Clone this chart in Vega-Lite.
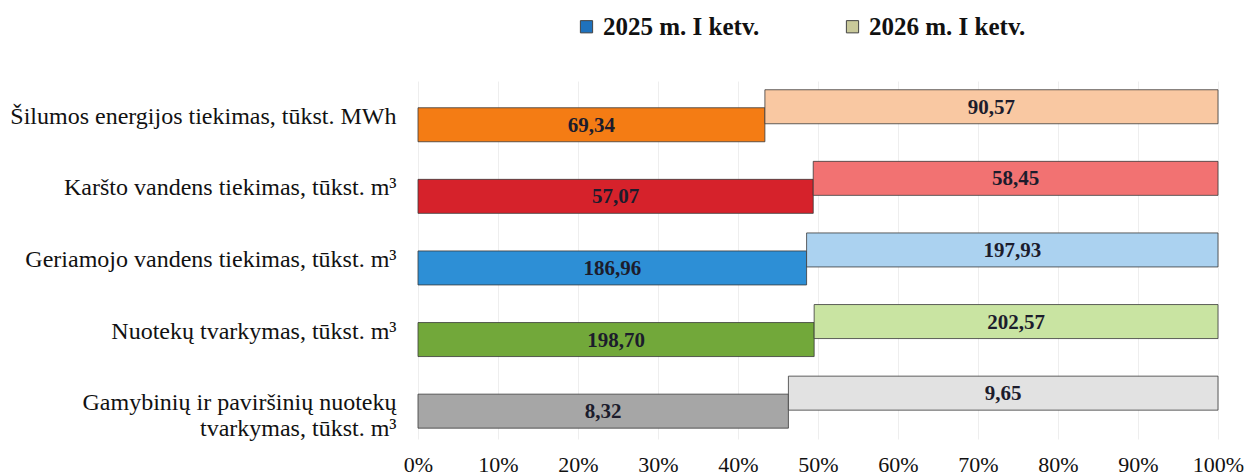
{
  "$schema": "https://vega.github.io/schema/vega-lite/v6.json",
  "width": 800,
  "height": 358,
  "autosize": "none",
  "padding": {"left": 418, "top": 81, "right": 32, "bottom": 36},
  "background": "white",
  "config": {
    "view": {"stroke": null},
    "locale": {"number": {"decimal": ",", "thousands": " ", "grouping": [3], "currency": ["", " €"]}},
    "font": "Liberation Serif"
  },
  "data": {
    "values": [
      {"cat": "Šilumos energijos tiekimas, tūkst. MWh", "series": "2025 m. I ketv.", "value": 69.34, "key": "s25", "ord": 1},
      {"cat": "Šilumos energijos tiekimas, tūkst. MWh", "series": "2026 m. I ketv.", "value": 90.57, "key": "s26", "ord": 2},
      {"cat": "Karšto vandens tiekimas, tūkst. m³", "series": "2025 m. I ketv.", "value": 57.07, "key": "k25", "ord": 1},
      {"cat": "Karšto vandens tiekimas, tūkst. m³", "series": "2026 m. I ketv.", "value": 58.45, "key": "k26", "ord": 2},
      {"cat": "Geriamojo vandens tiekimas, tūkst. m³", "series": "2025 m. I ketv.", "value": 186.96, "key": "g25", "ord": 1},
      {"cat": "Geriamojo vandens tiekimas, tūkst. m³", "series": "2026 m. I ketv.", "value": 197.93, "key": "g26", "ord": 2},
      {"cat": "Nuotekų tvarkymas, tūkst. m³", "series": "2025 m. I ketv.", "value": 198.70, "key": "n25", "ord": 1},
      {"cat": "Nuotekų tvarkymas, tūkst. m³", "series": "2026 m. I ketv.", "value": 202.57, "key": "n26", "ord": 2},
      {"cat": "Gamybinių ir paviršinių nuotekų|tvarkymas, tūkst. m³", "series": "2025 m. I ketv.", "value": 8.32, "key": "p25", "ord": 1},
      {"cat": "Gamybinių ir paviršinių nuotekų|tvarkymas, tūkst. m³", "series": "2026 m. I ketv.", "value": 9.65, "key": "p26", "ord": 2}
    ]
  },
  "transform": [
    {"stack": "value", "groupby": ["cat"], "sort": [{"field": "ord", "order": "ascending"}], "offset": "normalize", "as": ["x0", "x1"]},
    {"calculate": "(datum.x0 + datum.x1) / 2", "as": "xm"}
  ],
  "encoding": {
    "y": {
      "field": "cat",
      "type": "nominal",
      "sort": [
        "Šilumos energijos tiekimas, tūkst. MWh",
        "Karšto vandens tiekimas, tūkst. m³",
        "Geriamojo vandens tiekimas, tūkst. m³",
        "Nuotekų tvarkymas, tūkst. m³",
        "Gamybinių ir paviršinių nuotekų|tvarkymas, tūkst. m³"
      ],
      "scale": {"paddingInner": 0, "paddingOuter": 0},
      "axis": {
        "title": null,
        "domain": false,
        "ticks": false,
        "labelExpr": "split(datum.value, '|')",
        "labelFont": "Liberation Serif",
        "labelFontSize": 24,
        "labelColor": "#111111",
        "labelPadding": 22,
        "labelLimit": 450,
        "labelLineHeight": 26
      }
    },
    "yOffset": {
      "field": "series",
      "type": "nominal",
      "sort": ["2026 m. I ketv.", "2025 m. I ketv."],
      "scale": {"range": [16.75, 52.75], "paddingInner": 0, "paddingOuter": 0}
    }
  },
  "layer": [
    {
      "mark": {"type": "bar", "height": 34, "stroke": "#3a3a3a", "strokeWidth": 1, "strokeOpacity": 0.8},
      "encoding": {
        "x": {
          "field": "x0",
          "type": "quantitative",
          "scale": {"domain": [0, 1]},
          "axis": {
            "title": null,
            "format": ".0%",
            "values": [0, 0.1, 0.2, 0.3, 0.4, 0.5, 0.6, 0.7, 0.8, 0.9, 1],
            "domain": false,
            "ticks": false,
            "grid": true,
            "gridColor": "#eeeeee",
            "labelFont": "Liberation Serif",
            "labelFontSize": 22,
            "labelColor": "#111111",
            "labelPadding": 15,
            "labelFlush": false
          }
        },
        "x2": {"field": "x1"},
        "fill": {
          "field": "key",
          "type": "nominal",
          "scale": {
            "domain": ["s25", "s26", "k25", "k26", "g25", "g26", "n25", "n26", "p25", "p26"],
            "range": ["#f47c14", "#f9c8a2", "#d6222b", "#f27272", "#2d8fd6", "#abd2f0", "#72a83a", "#c9e4a2", "#a6a6a6", "#e2e2e2"]
          },
          "legend": null
        }
      }
    },
    {
      "mark": {"type": "text", "font": "Liberation Serif", "fontSize": 21, "fontWeight": "bold", "color": "#1c1c2c", "baseline": "middle", "dy": 1},
      "encoding": {
        "x": {"field": "xm", "type": "quantitative"},
        "text": {"field": "value", "type": "quantitative", "format": ".2f"}
      }
    },
    {
      "transform": [{"filter": "false"}],
      "mark": {"type": "square", "filled": true},
      "encoding": {
        "color": {
          "field": "series",
          "type": "nominal",
          "scale": {"domain": ["2025 m. I ketv.", "2026 m. I ketv."], "range": ["#1f72bd", "#c9c99a"]},
          "legend": {
            "title": null,
            "orient": "none",
            "direction": "horizontal",
            "legendX": 156,
            "legendY": -67,
            "symbolType": "square",
            "symbolSize": 150,
            "symbolStrokeColor": "#444444",
            "symbolStrokeWidth": 1,
            "symbolOpacity": 1,
            "labelFont": "Liberation Serif",
            "labelFontSize": 25,
            "labelFontWeight": "bold",
            "labelColor": "#111111",
            "labelLimit": 300,
            "labelOffset": 4,
            "columnPadding": 80
          }
        }
      }
    }
  ]
}
